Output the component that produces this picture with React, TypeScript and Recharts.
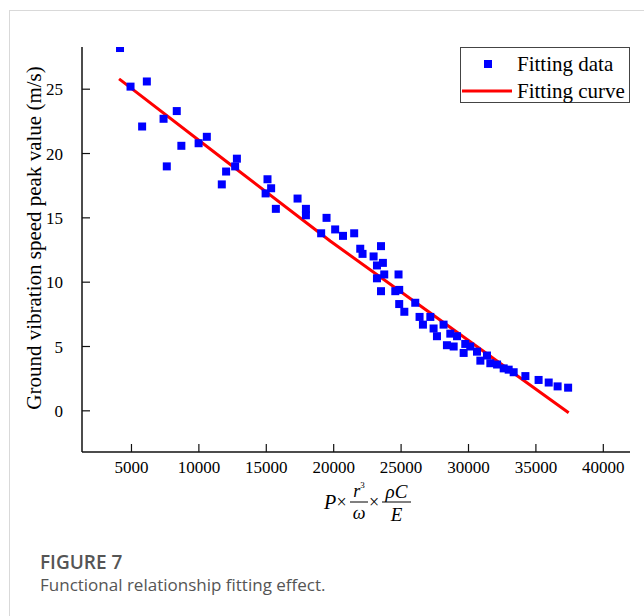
import React from 'react';
import { ComposedChart, Scatter, Line, XAxis, YAxis, Legend } from 'recharts';

// Fitting data (scatter)
const dataX = [
  4150, 4930, 6140, 5790, 7380, 8360, 7620, 8700, 9980, 10590,
  11700, 12020, 12820, 12690, 15090, 15360, 14950, 15710, 17320, 17940,
  17940, 19470, 19070, 20110, 20690, 21520, 21970, 22140, 22960, 23510,
  23650, 23210, 23750, 23210, 24810, 23510, 24570, 24860, 24860, 25240,
  26050, 26370, 26620, 27170, 27410, 27660, 28150, 28400, 28650, 29150,
  28900, 29640, 29760, 30130, 30630, 30880, 31370, 31620, 32120, 32610,
  32980, 33350, 34220, 35200, 35950, 36610, 37390,
];
const dataY = [
  28.2, 25.2, 25.6, 22.1, 22.7, 23.3, 19.0, 20.6, 20.8, 21.3,
  17.6, 18.6, 19.6, 19.0, 18.0, 17.3, 16.9, 15.7, 16.5, 15.7,
  15.2, 15.0, 13.8, 14.1, 13.6, 13.8, 12.6, 12.2, 12.0, 12.8,
  11.5, 11.3, 10.6, 10.3, 10.6, 9.3, 9.3, 9.4, 8.3, 7.7,
  8.4, 7.3, 6.7, 7.3, 6.4, 5.8, 6.7, 5.1, 6.0, 5.8,
  5.0, 4.5, 5.2, 5.0, 4.6, 3.9, 4.3, 3.7, 3.6, 3.3,
  3.2, 3.0, 2.7, 2.4, 2.2, 1.9, 1.8,
];

// Fitting curve
const fitX = [4080, 12020, 19740, 27170, 37430];
const fitY = [25.8, 19.4, 13.2, 7.6, -0.15];

const xTicks = [5000, 10000, 15000, 20000, 25000, 30000, 35000, 40000];
const yTicks = [0, 5, 10, 15, 20, 25];
const xDomain = [1330, 41980];
const yDomain = [-3.2, 28.28];

const scatterData = dataX.map((x, i) => ({ x, y: dataY[i] }));
const fitData = fitX.map((x, i) => ({ x, y: fitY[i] }));

const SERIF = "'Liberation Serif', 'Times New Roman', Times, serif";
const SANS = "'Open Sans', 'Noto Sans', sans-serif";

const SquareShape = (props: any) => {
  const { cx, cy } = props;
  if (cx == null || cy == null) return null;
  return <rect x={cx - 4} y={cy - 4} width={8} height={8} fill="#0000ff" />;
};

const LegendBox = () => (
  <svg width={170} height={56} style={{ display: 'block' }}>
    <rect x={0.5} y={0.5} width={169} height={55} fill="#ffffff" stroke="#444" strokeWidth={1} />
    <rect x={24} y={13} width={8} height={8} fill="#0000ff" />
    <text x={57} y={17} dominantBaseline="central" fontFamily={SERIF} fontSize={21} fill="#000">
      Fitting data
    </text>
    <line x1={2} x2={52} y1={44} y2={44} stroke="#ff0000" strokeWidth={3} />
    <text x={57} y={44} dominantBaseline="central" fontFamily={SERIF} fontSize={21} fill="#000">
      Fitting curve
    </text>
  </svg>
);

const YLabel = () => (
  <text
    transform="translate(34,238) rotate(-90)"
    textAnchor="middle"
    dominantBaseline="central"
    fontFamily={SERIF}
    fontSize={21}
    fill="#000"
  >
    Ground vibration speed peak value (m/s)
  </text>
);

const FormulaLabel = (props: any) => {
  const vb = props.viewBox || { x: 82, width: 548, y: 452 };
  const cx = vb.x + vb.width / 2 + 11;
  const bar = 502;
  const x0 = cx - 43;
  const common = { fontFamily: SERIF, fill: '#000' } as any;
  return (
    <g>
      <text x={x0} y={bar + 7} fontSize={20} fontStyle="italic" {...common}>P</text>
      <text x={x0 + 12.5} y={bar + 6} fontSize={18} {...common}>×</text>
      <line x1={x0 + 26} x2={x0 + 44} y1={bar} y2={bar} stroke="#000" strokeWidth={1} />
      <text x={x0 + 35} y={bar - 5} fontSize={18} fontStyle="italic" textAnchor="middle" {...common}>
        r<tspan fontSize={9} dy={-9} fontStyle="normal">3</tspan>
      </text>
      <text x={x0 + 35} y={bar + 17} fontSize={18} fontStyle="italic" textAnchor="middle" {...common}>ω</text>
      <text x={x0 + 45} y={bar + 6} fontSize={18} {...common}>×</text>
      <line x1={x0 + 58} x2={x0 + 87} y1={bar} y2={bar} stroke="#000" strokeWidth={1} />
      <text x={x0 + 72.5} y={bar - 4} fontSize={19} fontStyle="italic" textAnchor="middle" {...common}>ρC</text>
      <text x={x0 + 72.5} y={bar + 19} fontSize={19} fontStyle="italic" textAnchor="middle" {...common}>E</text>
    </g>
  );
};

export default function App() {
  return (
    <div style={{ position: 'absolute', left: 0, top: 0, width: 644, height: 616, overflow: 'hidden', background: '#fff' }}>
      <svg width={644} height={616} style={{ position: 'absolute', left: 0, top: 0 }}>
        <rect x={9.5} y={10.5} width={700} height={700} fill="none" stroke="#d9d9d9" strokeWidth={1} />
        <text x={40} y={569} fontFamily={SANS} fontSize={19} fontWeight={600} fill="#555">FIGURE 7</text>
        <text x={40} y={591} fontFamily={SANS} fontSize={17} fill="#555">Functional relationship fitting effect.</text>
      </svg>
      <div style={{ position: 'absolute', left: 0, top: 0 }}>
        <ComposedChart width={644} height={616} margin={{ top: 47, right: 14, bottom: 104, left: 0 }}>
          <XAxis
            xAxisId="main"
            dataKey="x"
            type="number"
            domain={xDomain}
            ticks={xTicks}
            allowDataOverflow
            height={60}
            tickSize={-8}
            tickMargin={17}
            axisLine={{ stroke: '#111', strokeWidth: 1.5 }}
            tickLine={{ stroke: '#111', strokeWidth: 1.2 }}
            tick={{ fontFamily: SERIF, fontSize: 17, fill: '#000' }}
            label={<FormulaLabel />}
          />
          <XAxis
            xAxisId="top"
            orientation="top"
            type="number"
            domain={xDomain}
            allowDataOverflow
            height={0}
            tick={false}
            tickLine={false}
            axisLine={{ stroke: '#111', strokeWidth: 1.5 }}
          />
          <YAxis
            yAxisId="main"
            type="number"
            domain={yDomain}
            ticks={yTicks}
            allowDataOverflow
            width={82}
            tickSize={-8}
            tickMargin={27}
            axisLine={{ stroke: '#111', strokeWidth: 1.5 }}
            tickLine={{ stroke: '#111', strokeWidth: 1.2 }}
            tick={{ fontFamily: SERIF, fontSize: 17, fill: '#000' }}
            label={<YLabel />}
          />
          <YAxis
            yAxisId="right"
            orientation="right"
            type="number"
            domain={yDomain}
            allowDataOverflow
            width={0}
            tick={false}
            tickLine={false}
            axisLine={{ stroke: '#111', strokeWidth: 1.5 }}
          />
          <Scatter
            xAxisId="main"
            yAxisId="main"
            name="Fitting data"
            data={scatterData}
            dataKey="y"
            fill="#0000ff"
            shape={SquareShape}
            isAnimationActive={false}
          />
          <Line
            xAxisId="main"
            yAxisId="main"
            name="Fitting curve"
            data={fitData}
            dataKey="y"
            type="linear"
            stroke="#ff0000"
            strokeWidth={3}
            dot={false}
            activeDot={false}
            isAnimationActive={false}
          />
          <Legend
            layout="vertical"
            align="center"
            verticalAlign="middle"
            content={() => <LegendBox />}
            wrapperStyle={{ position: 'absolute', left: 460, top: 47, width: 170, height: 56 }}
          />
        </ComposedChart>
      </div>
    </div>
  );
}
